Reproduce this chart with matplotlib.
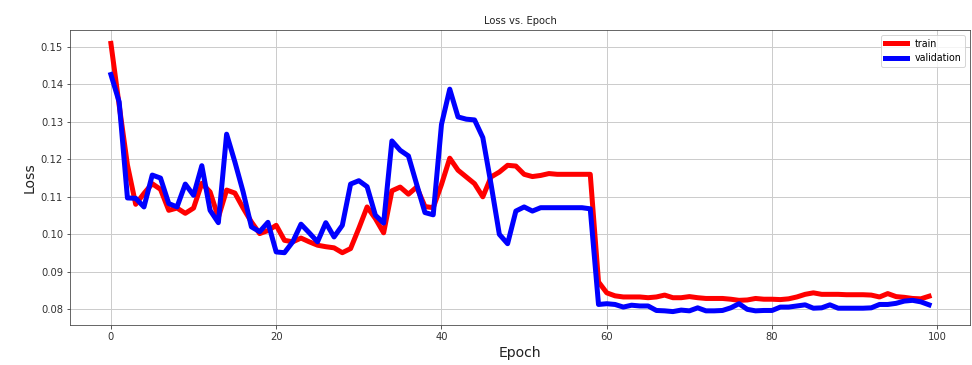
import matplotlib
matplotlib.use("Agg")
import matplotlib.pyplot as plt
import numpy as np

epochs = list(range(100))

train_loss = [
    0.1509, 0.1344, 0.1185, 0.1080, 0.1109, 0.1135, 0.1120, 0.1064, 0.1070, 0.1056,
    0.1070, 0.1136, 0.1113, 0.1045, 0.1118, 0.1110, 0.1070, 0.1033, 0.1002, 0.1010,
    0.1024, 0.0984, 0.0980, 0.0990, 0.0980, 0.0971, 0.0967, 0.0964, 0.0951, 0.0962,
    0.1016, 0.1073, 0.1042, 0.1004, 0.1116, 0.1126, 0.1107, 0.1126, 0.1074, 0.1071,
    0.1133, 0.1203, 0.1171, 0.1153, 0.1135, 0.1100, 0.1153, 0.1166, 0.1184, 0.1182,
    0.1160, 0.1154, 0.1157, 0.1162, 0.1160, 0.1160, 0.1160, 0.1160, 0.1160, 0.0873,
    0.0844, 0.0836, 0.0833, 0.0833, 0.0833, 0.0831, 0.0833, 0.0838, 0.0831, 0.0831,
    0.0834, 0.0831, 0.0829, 0.0829, 0.0829, 0.0827, 0.0824, 0.0825, 0.0829, 0.0827,
    0.0827, 0.0826, 0.0828, 0.0833, 0.0840, 0.0844, 0.0840, 0.0840, 0.0840, 0.0839,
    0.0839, 0.0839, 0.0838, 0.0833, 0.0842, 0.0834, 0.0832, 0.0829, 0.0828, 0.0835,
]

val_loss = [
    0.1426, 0.1353, 0.1097, 0.1096, 0.1073, 0.1158, 0.1150, 0.1082, 0.1073, 0.1134,
    0.1104, 0.1183, 0.1064, 0.1031, 0.1267, 0.1193, 0.1113, 0.1020, 0.1007, 0.1032,
    0.0953, 0.0951, 0.0980, 0.1027, 0.1004, 0.0980, 0.1031, 0.0993, 0.1024, 0.1134,
    0.1143, 0.1127, 0.1051, 0.1030, 0.1249, 0.1224, 0.1209, 0.1133, 0.1058, 0.1052,
    0.1293, 0.1387, 0.1313, 0.1307, 0.1305, 0.1258, 0.1133, 0.1000, 0.0975, 0.1062,
    0.1073, 0.1062, 0.1071, 0.1071, 0.1071, 0.1071, 0.1071, 0.1071, 0.1068, 0.0813,
    0.0815, 0.0813, 0.0806, 0.0811, 0.0809, 0.0809, 0.0797, 0.0796, 0.0794, 0.0798,
    0.0796, 0.0804, 0.0796, 0.0796, 0.0797, 0.0804, 0.0815, 0.0800, 0.0796, 0.0797,
    0.0797, 0.0806, 0.0806, 0.0809, 0.0812, 0.0803, 0.0804, 0.0812, 0.0803, 0.0803,
    0.0803, 0.0803, 0.0804, 0.0813, 0.0813, 0.0816, 0.0822, 0.0824, 0.0820, 0.0812,
]

series_labels = ["train", "validation"]
title = "Loss vs. Epoch"

fig = plt.figure(figsize=(972 / 72, 365 / 72), dpi=72)
ax = fig.add_axes([70 / 972, 1 - 325 / 365, 900 / 972, 295 / 365])

ax.plot(epochs, train_loss, color="red", linewidth=5, label=series_labels[0])
ax.plot(epochs, val_loss, color="blue", linewidth=5, label=series_labels[1])

ax.set_title(title, fontsize=10, color="#222222")
ax.set_xlabel("Epoch", fontsize=14, color="#222222")
ax.set_ylabel("Loss", fontsize=14, color="#222222")
ax.grid(True, color="#cccccc", linewidth=1)
ax.set_axisbelow(True)
ax.set_yticks([0.08, 0.09, 0.10, 0.11, 0.12, 0.13, 0.14, 0.15])
ax.set_xticks([0, 20, 40, 60, 80, 100])
ax.tick_params(labelsize=10, colors="#333333")
for s in ax.spines.values():
    s.set_color("#444444")

leg = ax.legend(loc="upper right", fontsize=9.5, framealpha=0.8, handlelength=2.3)

fig.savefig("out.png", dpi=72)
